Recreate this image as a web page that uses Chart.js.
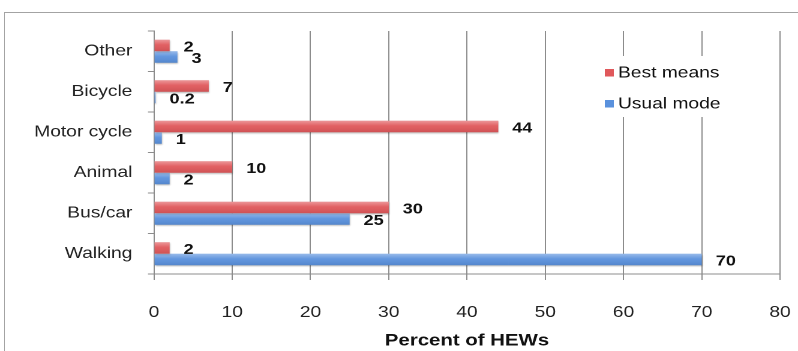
<!DOCTYPE html>
<html>
<head>
<meta charset="utf-8">
<script src="https://cdn.jsdelivr.net/npm/chart.js@4"></script>
<style>
  html, body { margin: 0; padding: 0; width: 798px; height: 351px; overflow: hidden; background: #fff; }
  #frame { position: absolute; left: 4px; top: 12px; width: 1000px; height: 1000px; border: 1.5px solid #a3a3a3; }
  #wrap { position: absolute; left: 0; top: 0; width: 665px; height: 351px; transform: scaleX(1.2); transform-origin: 0 0; }
</style>
</head>
<body>
<div id="frame"></div>
<div id="wrap"><canvas id="c" width="665" height="351"></canvas></div>
<script>
// Travel modes, listed top to bottom
const categories = ['Other', 'Bicycle', 'Motor cycle', 'Animal', 'Bus/car', 'Walking'];
// Percent of HEWs per mode
const bestMeans = [2, 7, 44, 10, 30, 2];
const usualMode = [3, 0.2, 1, 2, 25, 70];
// Value axis range
const xMin = 0, xMax = 80, xStep = 10;

const FONT = "'Liberation Sans', Arial, Helvetica, sans-serif";
const RED = '#e0585b';
const BLUE = '#5a91dd';

const decorPlugin = {
  id: 'decor',
  beforeDatasetsDraw(chart) {
    const ctx = chart.ctx;
    // legend panel sits over the gridlines inside the plot
    ctx.save();
    ctx.fillStyle = '#ffffff';
    ctx.fillRect(496, 56, 124, 61);
    ctx.font = '16px ' + FONT;
    ctx.textBaseline = 'middle';
    ctx.textAlign = 'left';
    chart.data.datasets.forEach((ds, i) => {
      const cy = 72.5 + i * 31;
      ctx.fillStyle = ds.backgroundColor;
      ctx.fillRect(504, cy - 3.5, 7.5, 7.5);
      ctx.fillStyle = '#111';
      ctx.fillText(ds.label, 515, cy + 0.5);
    });
    ctx.restore();
    // soft drop shadow under the bars
    ctx.save();
    ctx.shadowColor = 'rgba(0,0,0,0.28)';
    ctx.shadowOffsetY = 2;
    ctx.shadowOffsetX = 1;
    ctx.shadowBlur = 3;
  },
  afterDatasetsDraw(chart) {
    const ctx = chart.ctx;
    ctx.restore();
    ctx.save();
    chart.data.datasets.forEach((ds, di) => {
      const meta = chart.getDatasetMeta(di);
      meta.data.forEach((el, i) => {
        const h = el.height;
        const top = el.y - h / 2;
        const left = Math.min(el.base, el.x);
        const w = Math.abs(el.x - el.base);
        // glossy band on each bar
        const g = ctx.createLinearGradient(0, top, 0, top + h);
        g.addColorStop(0, 'rgba(255,255,255,0.38)');
        g.addColorStop(0.45, 'rgba(255,255,255,0.05)');
        g.addColorStop(1, 'rgba(0,0,0,0.08)');
        ctx.fillStyle = g;
        ctx.fillRect(left, top, w, h);
        // value label
        ctx.font = 'bold 15px ' + FONT;
        ctx.fillStyle = '#111';
        ctx.textAlign = 'left';
        ctx.textBaseline = 'middle';
        ctx.fillText(String(ds.data[i]), el.x + 11.7, el.y + 2);
      });
    });
    ctx.restore();
  }
};

new Chart(document.getElementById('c'), {
  type: 'bar',
  data: {
    labels: categories,
    datasets: [
      { label: 'Best means', data: bestMeans, backgroundColor: RED },
      { label: 'Usual mode', data: usualMode, backgroundColor: BLUE }
    ]
  },
  options: {
    indexAxis: 'y',
    responsive: false,
    animation: false,
    devicePixelRatio: 2,
    categoryPercentage: 0.57,
    barPercentage: 1.0,
    layout: { padding: { top: 31, right: 15, left: 0, bottom: 0 } },
    plugins: { legend: { display: false }, tooltip: { enabled: false } },
    scales: {
      x: {
        min: xMin, max: xMax,
        ticks: { stepSize: xStep, color: '#222', font: { family: FONT, size: 16 }, padding: 23 },
        grid: { color: '#8c8c8c', lineWidth: 1, tickLength: 6 },
        border: { color: '#8c8c8c' },
        title: { display: true, text: 'Percent of HEWs', color: '#111',
                 font: { family: FONT, size: 17, weight: 'bold' }, padding: { top: 0, bottom: 0 } },
        afterFit(s) { s.height = 77; s.paddingLeft = 0; s.paddingRight = 0; }
      },
      y: {
        ticks: { color: '#222', font: { family: FONT, size: 16 }, padding: 13 },
        grid: { drawOnChartArea: false, color: '#8c8c8c', tickLength: 5 },
        border: { color: '#8c8c8c' },
        afterFit(s) { s.width = 128.3; s.paddingTop = 0; s.paddingBottom = 0; }
      }
    }
  },
  plugins: [decorPlugin]
});
</script>
</body>
</html>
